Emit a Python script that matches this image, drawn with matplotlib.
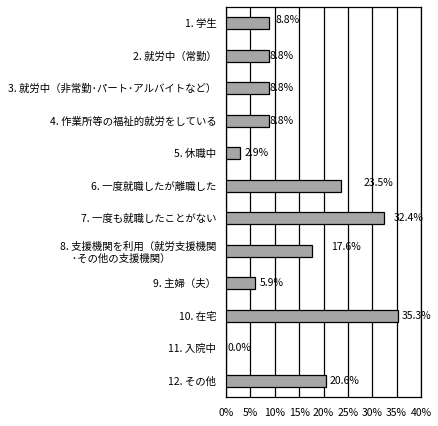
import matplotlib
matplotlib.use("Agg")
import matplotlib.pyplot as plt

plt.rcParams['font.family'] = ['Noto Sans CJK JP', 'DejaVu Sans']

categories = [
    "1. 学生",
    "2. 就労中（常勤）",
    "3. 就労中（非常勤･パート･アルバイトなど）",
    "4. 作業所等の福祉的就労をしている",
    "5. 休職中",
    "6. 一度就職したが離職した",
    "7. 一度も就職したことがない",
    "8. 支援機関を利用（就労支援機関\n     ･その他の支援機関）",
    "9. 主婦（夫）",
    "10. 在宅",
    "11. 入院中",
    "12. その他",
]
values = [8.8, 8.8, 8.8, 8.8, 2.9, 23.5, 32.4, 17.6, 5.9, 35.3, 0.0, 20.6]
value_labels = ["8.8%", "8.8%", "8.8%", "8.8%", "2.9%", "23.5%", "32.4%",
                "17.6%", "5.9%", "35.3%", "0.0%", "20.6%"]
xticks = [0, 5, 10, 15, 20, 25, 30, 35, 40]
xtick_labels = ["0%", "5%", "10%", "15%", "20%", "25%", "30%", "35%", "40%"]

# label offsets (pixels) to mimic the original placement
label_dx = [7, 1, 1, 1, 4, 23, 10, 19, 5, 4, 2, 3]
label_dy = [3, 0, 0, 0, 0, 3, 0, 4, 0, 0, 0, 0]

fig = plt.figure(figsize=(4.39, 4.26), dpi=100)
ax = fig.add_axes([226/439, 1 - 397/426, (421 - 226)/439, (397 - 7)/426])

ypos = list(range(len(categories)))
ax.barh(ypos, values, height=0.37, color="#A6A6A6", edgecolor="black", linewidth=0.9, zorder=3)

for y, v, lab, dx, dy in zip(ypos, values, value_labels, label_dx, label_dy):
    ax.annotate(lab, (v, y), xytext=(dx, dy), textcoords="offset pixels",
                ha="left", va="center", fontsize=7.5, zorder=4)

ax.set_xlim(0, 40)
ax.set_ylim(len(categories) - 0.5, -0.5)
ax.set_xticks(xticks)
ax.set_xticklabels(xtick_labels, fontsize=7.5)
ax.set_yticks(ypos)
ax.set_yticklabels(categories, fontsize=7.5, multialignment="left")
ax.tick_params(axis="both", length=0)
ax.tick_params(axis="x", pad=8)
ax.tick_params(axis="y", pad=7)
ax.grid(axis="x", color="black", linewidth=0.9, zorder=1)
for s in ax.spines.values():
    s.set_color("black")
    s.set_linewidth(0.9)

fig.savefig("out.png", dpi=100)
